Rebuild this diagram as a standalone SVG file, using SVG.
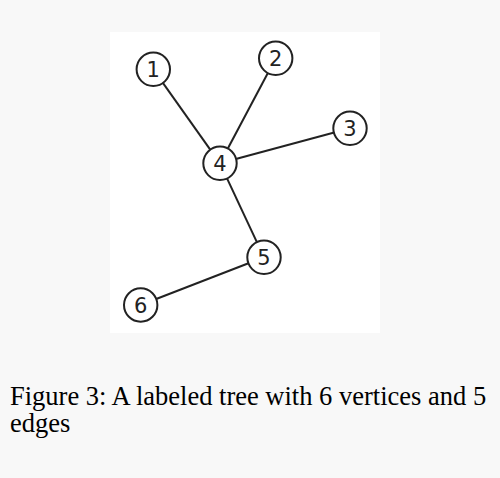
<svg xmlns="http://www.w3.org/2000/svg" width="500" height="478" viewBox="0 0 500 478">
<style>
.edge{stroke:#222;stroke-width:2;fill:none}
.node circle{fill:#fff;stroke:#222;stroke-width:2}
.node text{font-family:"DejaVu Sans",sans-serif;font-size:21px;fill:#222;text-anchor:middle;dominant-baseline:central}
.cap{font-family:"Liberation Serif",serif;font-size:26.5px;fill:#000}
</style>
<rect x="0" y="0" width="500" height="478" fill="#f8f8f8"/>
<rect x="110" y="32" width="270" height="301" fill="#fff"/>
<g id="connectors">
<line class="edge" x1="153.3" y1="69.3" x2="220" y2="163.3"/>
<line class="edge" x1="275.7" y1="58.3" x2="220" y2="163.3"/>
<line class="edge" x1="350" y1="128.3" x2="220" y2="163.3"/>
<line class="edge" x1="220" y1="163.3" x2="264" y2="257.3"/>
<line class="edge" x1="264" y1="257.3" x2="140.7" y2="305"/>
</g>
<g id="n1" class="node"><circle cx="153.3" cy="69.3" r="16.7"/><text x="153.3" y="70">1</text></g>
<g id="n2" class="node"><circle cx="275.7" cy="58.3" r="16.7"/><text x="275.7" y="59">2</text></g>
<g id="n3" class="node"><circle cx="350" cy="128.3" r="16.7"/><text x="350" y="129">3</text></g>
<g id="n4" class="node"><circle cx="220" cy="163.3" r="16.7"/><text x="220" y="164">4</text></g>
<g id="n5" class="node"><circle cx="264" cy="257.3" r="16.7"/><text x="264" y="258">5</text></g>
<g id="n6" class="node"><circle cx="140.7" cy="305" r="16.7"/><text x="140.7" y="306">6</text></g>
<g id="caption">
<text class="cap" x="10" y="405">Figure 3: A labeled tree with 6 vertices and 5</text>
<text class="cap" x="10" y="432">edges</text>
</g>
</svg>
